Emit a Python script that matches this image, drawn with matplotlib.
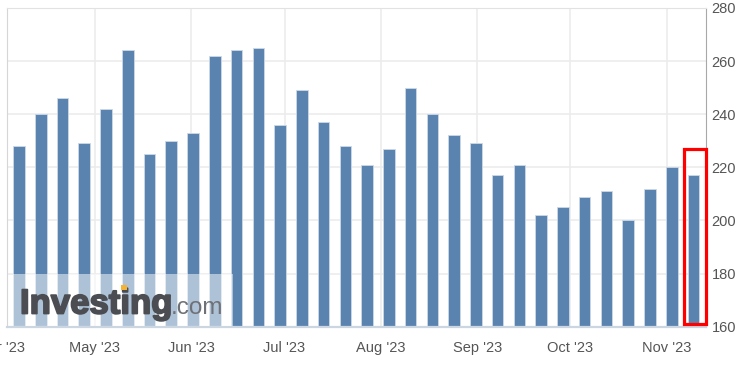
import numpy as np
import pandas as pd
import matplotlib
matplotlib.use("Agg")
import matplotlib.pyplot as plt
import matplotlib.dates as mdates
import matplotlib.patheffects as pe
from matplotlib.patches import Rectangle

plt.rcParams["font.family"] = ["Liberation Sans", "DejaVu Sans"]

# weekly values, Apr 6 2023 .. Nov 9 2023
start = "2023-04-06 14:00"
values = [228, 240, 246, 229, 242, 264, 225, 230, 233, 262, 264, 265,
          236, 249, 237, 228, 221, 227, 250, 240, 232, 229, 217, 221,
          202, 205, 209, 211, 200, 212, 220, 217]
dates = pd.date_range(start, periods=len(values), freq="7D")
month_ticks = pd.date_range("2023-05-01", "2023-11-01", freq="MS")
month_labels = [d.strftime("%b '%y") for d in month_ticks]
y_ticks = [160, 180, 200, 220, 240, 260, 280]

BAR = "#5b83b0"
GRID = "#ececec"
TXT = "#555555"

fig = plt.figure(figsize=(7.54, 3.66), dpi=100)
ax = fig.add_axes([7 / 754, 39.3 / 366, 699 / 754, 318.7 / 366])

x = mdates.date2num(dates)
ax.bar(x, values, width=3.75, bottom=0, color=BAR, edgecolor="#cdd9e6",
       linewidth=0.6, zorder=2)

ax.set_ylim(160, 280)
ax.set_xlim(mdates.date2num(pd.Timestamp("2023-04-02 17:00")),
            mdates.date2num(pd.Timestamp("2023-11-13 15:00")))

ax.set_xticks(mdates.date2num(month_ticks))
ax.set_xticklabels(month_labels)
ax.set_yticks(y_ticks)
ax.yaxis.tick_right()
ax.tick_params(axis="both", length=0, labelsize=10.5, colors=TXT)
ax.tick_params(axis="x", pad=10)
ax.tick_params(axis="y", pad=4)
ax.grid(True, color=GRID, linewidth=1.2, zorder=0)
ax.set_axisbelow(True)

# cut-off April label at the far left
ax.text(mdates.date2num(pd.Timestamp("2023-04-01")), -0.066, "Apr '23",
        transform=ax.get_xaxis_transform(), ha="center", va="center",
        fontsize=10.5, color=TXT, clip_on=False)

ax.spines["left"].set_color("#d6d6d6")
ax.spines["top"].set_color("#e2e2e2")
ax.spines["right"].set_color("#a8a8a8")
ax.spines["bottom"].set_color("#ccd6e0")
ax.spines["bottom"].set_linewidth(1.6)

# watermark
fig.patches.append(Rectangle((13 / 754, (366 - 326) / 366), 220 / 754, 52 / 366,
                             transform=fig.transFigure, facecolor="white",
                             alpha=0.5, edgecolor="none", zorder=3))
fig.text(20 / 754, (366 - 313.5) / 366, "Investing", fontsize=25,
         fontweight="bold", color="#4b4d53", ha="left", va="baseline",
         zorder=4,
         path_effects=[pe.withStroke(linewidth=1.3, foreground="#4b4d53")])
fig.text(171 / 754, (366 - 313.5) / 366, ".com", fontsize=17.5,
         color="#6f7176", ha="left", va="baseline", zorder=4)
fig.patches.append(Rectangle((120.5 / 754, (366 - 290) / 366), 6 / 754, 5 / 366,
                             transform=fig.transFigure, facecolor="#f5b335",
                             edgecolor="none", zorder=5))

# highlight latest bar
ax.add_patch(Rectangle((mdates.date2num(pd.Timestamp("2023-11-06 15:00")), 161.2),
                       7.1, 65.8, fill=False, edgecolor="red", linewidth=2.3,
                       clip_on=False, zorder=6))

fig.savefig("out.png", dpi=100)
